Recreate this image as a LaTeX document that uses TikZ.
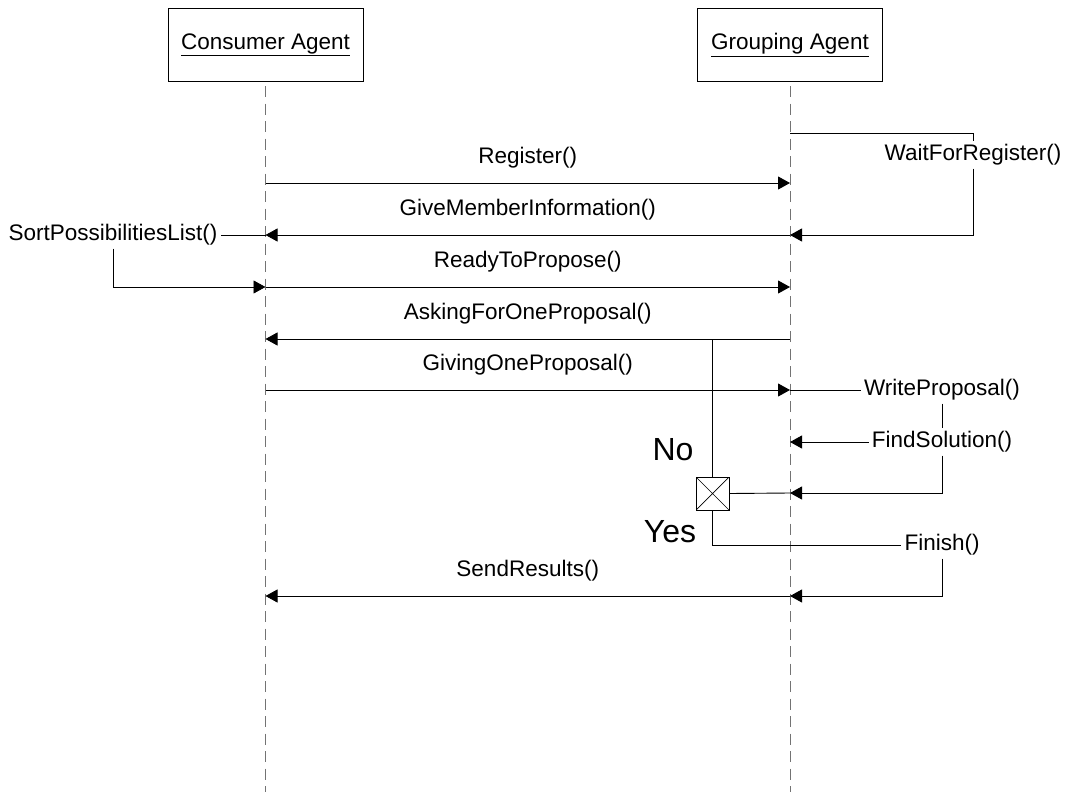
\documentclass[tikz,border=0pt]{standalone}
\usepackage{fontspec}
\setmainfont{Liberation Sans}
\usetikzlibrary{arrows.meta}
\begin{document}
\begin{tikzpicture}[x=1pt,y=-1pt,
  agent/.style={draw, line width=1pt, minimum width=195pt, minimum height=73pt, inner sep=0pt, font=\fontsize{22.5}{26}\selectfont},
  lifeline/.style={draw=black!55, line width=1pt, dash pattern=on 11pt off 6.5pt, dash phase=-4pt},
  conn/.style={line width=0.9pt},
  msg/.style={conn, -{Triangle[length=12pt,width=13pt]}},
  lbl/.style={font=\fontsize{22.5}{26}\selectfont, inner sep=3pt},
  mlbl/.style={lbl, midway, yshift=25pt},
  big/.style={font=\fontsize{32}{36}\selectfont, inner sep=0pt},
  decision/.style={draw, line width=0.9pt, minimum size=33pt, inner sep=0pt,
    path picture={\draw[line width=0.7pt] (path picture bounding box.north west) -- (path picture bounding box.south east)
      (path picture bounding box.north east) -- (path picture bounding box.south west);}}
]
\useasboundingbox (0,0) rectangle (1070,792);

% agents
\node[agent] (ca) at (265.5,45) {\underline{Consumer Agent}};
\node[agent, minimum width=185pt] (ga) at (790,45) {\underline{Grouping Agent}};

% lifelines
\coordinate (cend) at (265.5,792);
\coordinate (gend) at (790,792);
\draw[lifeline] (ca.south) -- (cend);
\draw[lifeline] (ga.south) -- (gend);

% lifeline points
\coordinate (g0) at (790,133);
\coordinate (c1) at (265.5,183);
\coordinate (g1) at (790,183);
\coordinate (c2) at (265.5,235);
\coordinate (g2) at (790,235);
\coordinate (c3) at (265.5,287);
\coordinate (g3) at (790,287);
\coordinate (c4) at (265.5,339);
\coordinate (g4) at (790,339);
\coordinate (j1) at (712.5,339);
\coordinate (c5) at (265.5,390);
\coordinate (g5) at (790,390);
\coordinate (g6) at (790,442);
\coordinate (g7) at (790,493);
\coordinate (c8) at (265.5,596);
\coordinate (g8) at (790,596);

% side labels
\node[lbl] (wr) at (973,155) {WaitForRegister()};
\node[lbl] (sp) at (113,235) {SortPossibilitiesList()};
\node[lbl] (wp) at (942,390) {WriteProposal()};
\node[lbl] (fs) at (942,442) {FindSolution()};
\node[lbl] (fi) at (942,545) {Finish()};
\node[decision] (dec) at (712.5,493.5) {};
\node[big] (no) at (673,450) {No};
\node[big] (yes) at (670,532) {Yes};

% messages
\draw[msg] (c1) -- (g1) node[mlbl] {Register()};
\draw[conn] (g0) -| (wr.north);
\draw[msg] (wr.south) |- (g2);
\draw[msg] (g2) -- (c2) node[mlbl] {GiveMemberInformation()};
\draw[conn] (c2) -- (sp.east);
\draw[msg] (sp.south) |- (c3);
\draw[msg] (c3) -- (g3) node[mlbl] {ReadyToPropose()};
\draw[msg] (g4) -- (c4) node[mlbl] {AskingForOneProposal()};
\draw[conn] (j1) -- (dec.north);
\draw[msg] (c5) -- (g5) node[mlbl] {GivingOneProposal()};
\draw[conn] (g5) -- (wp.west);
\draw[conn] (wp.south) -- (fs.north);
\draw[msg] (fs.west) -- (g6);
\draw[msg] (fs.south) |- (g7);
\draw[conn] (g7) -- (dec.east);
\draw[conn] (dec.south) |- (fi.west);
\draw[msg] (fi.south) |- (g8);
\draw[msg] (g8) -- (c8) node[mlbl] {SendResults()};
\end{tikzpicture}
\end{document}
